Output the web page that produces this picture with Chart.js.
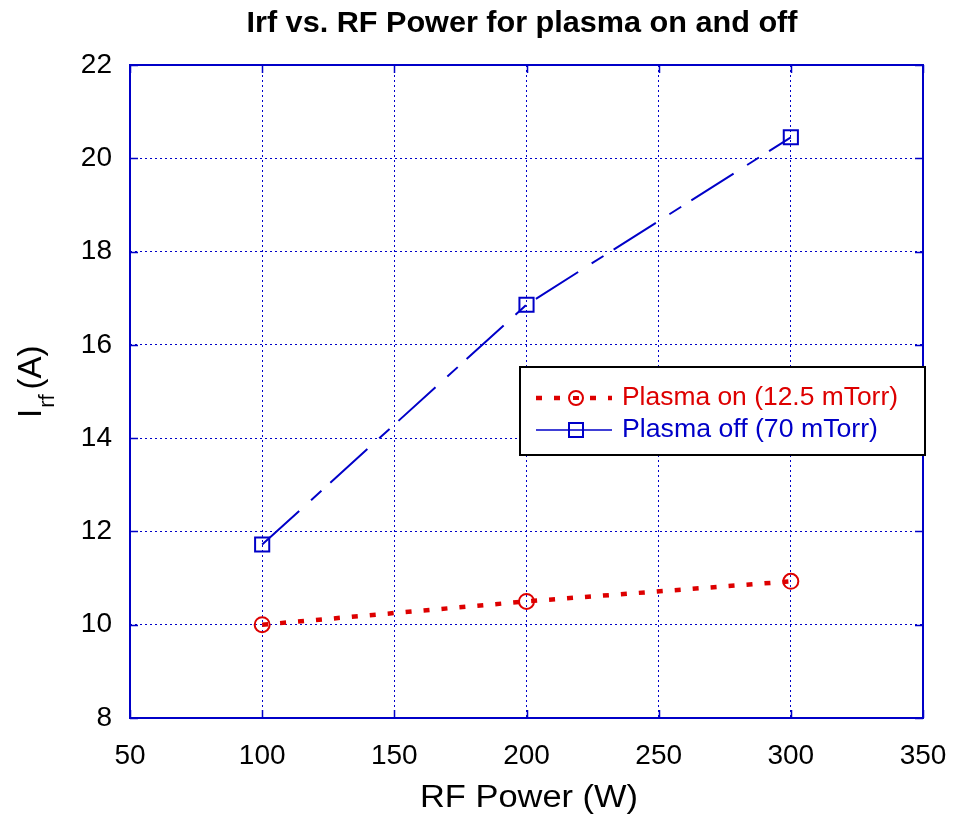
<!DOCTYPE html>
<html>
<head>
<meta charset="utf-8">
<script src="https://cdn.jsdelivr.net/npm/chart.js@4"></script>
<style>
  html, body { margin: 0; padding: 0; background: #fff; }
  #wrap { width: 953px; height: 822px; }
</style>
</head>
<body>
<div id="wrap"><canvas id="chart" width="953" height="822"></canvas></div>
<script>
// data
const rfPower = [100, 200, 300];
const plasmaOn = [10.0, 10.5, 10.93];
const plasmaOff = [11.72, 16.86, 20.45];
const seriesNames = ['Plasma on (12.5 mTorr)', 'Plasma off (70 mTorr)'];
const xTicks = [50, 100, 150, 200, 250, 300, 350];
const yTicks = [8, 10, 12, 14, 16, 18, 20, 22];

const RED = '#dd0000';
const BLUE = '#0000c8';
const FONT = '"Liberation Sans", Arial, sans-serif';

function pts(ys) {
  return rfPower.map((x, i) => ({ x: x, y: ys[i] }));
}

// draw text stretched horizontally so it fills a given width
function fitText(ctx, text, cx, cy, width) {
  const w = ctx.measureText(text).width;
  ctx.save();
  ctx.translate(cx, cy);
  ctx.scale(width / w, 1);
  ctx.textAlign = 'center';
  ctx.fillText(text, 0, 0);
  ctx.restore();
}

// frame, inward ticks, titles, legend
const decorations = {
  id: 'decorations',
  afterDatasetsDraw(chart) {
    const ctx = chart.ctx;
    const a = chart.chartArea;
    const xs = chart.scales.x, ys = chart.scales.y;
    ctx.save();

    // plot frame
    ctx.strokeStyle = BLUE;
    ctx.lineWidth = 2;
    ctx.strokeRect(a.left, a.top, a.right - a.left, a.bottom - a.top);

    // small ticks pointing inward
    ctx.lineWidth = 1.5;
    ctx.beginPath();
    xTicks.forEach(v => {
      const px = Math.round(xs.getPixelForValue(v)) + 0.5;
      ctx.moveTo(px, a.bottom); ctx.lineTo(px, a.bottom - 8);
      ctx.moveTo(px, a.top); ctx.lineTo(px, a.top + 8);
    });
    yTicks.forEach(v => {
      const py = Math.round(ys.getPixelForValue(v)) + 0.5;
      ctx.moveTo(a.left, py); ctx.lineTo(a.left + 8, py);
      ctx.moveTo(a.right, py); ctx.lineTo(a.right - 8, py);
    });
    ctx.stroke();

    // title
    ctx.fillStyle = '#000';
    ctx.textBaseline = 'alphabetic';
    ctx.font = 'bold 30px ' + FONT;
    fitText(ctx, 'Irf vs. RF Power for plasma on and off', 522, 32, 551);

    // x axis title
    ctx.font = '31px ' + FONT;
    fitText(ctx, 'RF Power (W)', 529, 807, 218);

    // y axis title with subscript
    ctx.save();
    ctx.translate(30, 380);
    ctx.rotate(-Math.PI / 2);
    ctx.textAlign = 'left';
    ctx.font = '33px ' + FONT;
    let x0 = -38;
    ctx.fillText('I', x0, 11);
    x0 += ctx.measureText('I').width + 1;
    ctx.font = '22px ' + FONT;
    ctx.fillText('rf', x0, 24);
    x0 += ctx.measureText('rf').width + 5;
    ctx.font = '33px ' + FONT;
    ctx.fillText('(A)', x0, 11);
    ctx.restore();

    // legend box
    const lx = 520, ly = 367, lw = 405, lh = 88;
    ctx.fillStyle = '#fff';
    ctx.fillRect(lx, ly, lw, lh);
    ctx.strokeStyle = '#000';
    ctx.lineWidth = 2;
    ctx.strokeRect(lx, ly, lw, lh);

    const rows = [
      { y: 398, color: RED, dash: [6, 12], width: 4.5, marker: 'circle', w: 276 },
      { y: 430, color: BLUE, dash: [], width: 1.5, marker: 'rect', w: 256 }
    ];
    rows.forEach((r, i) => {
      ctx.strokeStyle = r.color;
      ctx.lineWidth = r.width;
      ctx.setLineDash(r.dash);
      ctx.beginPath();
      ctx.moveTo(536, r.y); ctx.lineTo(612, r.y);
      ctx.stroke();
      ctx.setLineDash([]);
      ctx.lineWidth = 2;
      ctx.beginPath();
      if (r.marker === 'circle') {
        ctx.fillStyle = '#fff';
        ctx.arc(576, r.y, 7, 0, Math.PI * 2);
        ctx.fill();
        ctx.stroke();
        ctx.fillStyle = r.color;
        ctx.fillRect(573, r.y - 2, 6, 4);
      } else {
        ctx.rect(569, r.y - 7, 14, 14);
        ctx.stroke();
      }
      ctx.fillStyle = r.color;
      ctx.font = '25px ' + FONT;
      ctx.textBaseline = 'middle';
      fitText(ctx, seriesNames[i], 622 + r.w / 2, r.y, r.w);
    });

    ctx.restore();
  }
};

new Chart(document.getElementById('chart'), {
  type: 'line',
  data: {
    datasets: [
      {
        label: seriesNames[0],
        data: pts(plasmaOn),
        borderColor: RED,
        borderWidth: 4.5,
        borderDash: [6, 12],
        pointStyle: 'circle',
        pointRadius: 7.5,
        pointBorderWidth: 2,
        pointBorderColor: RED,
        pointBackgroundColor: 'rgba(0,0,0,0)',
        tension: 0
      },
      {
        label: seriesNames[1],
        data: pts(plasmaOff),
        borderColor: BLUE,
        borderWidth: 2,
        borderDash: [50, 16, 14, 12],
        pointStyle: 'rect',
        pointRadius: 10,
        pointBorderWidth: 2,
        pointBorderColor: BLUE,
        pointBackgroundColor: 'rgba(0,0,0,0)',
        tension: 0
      }
    ]
  },
  options: {
    responsive: false,
    animation: false,
    layout: { padding: { top: 65, right: 30, left: 0, bottom: 0 } },
    plugins: {
      legend: { display: false },
      title: { display: false },
      tooltip: { enabled: false }
    },
    scales: {
      x: {
        type: 'linear',
        min: 50, max: 350,
        afterBuildTicks(scale) { scale.ticks = xTicks.map(v => ({ value: v })); },
        afterFit(scale) {
          scale.height = 104;
          scale.paddingLeft = 0;
          scale.paddingRight = 0;
        },
        grid: { color: BLUE, lineWidth: 1, drawTicks: false },
        border: { display: false, dash: [2, 3] },
        ticks: { color: '#000', padding: 21, font: { family: FONT, size: 28 } }
      },
      y: {
        min: 8, max: 22,
        afterBuildTicks(scale) { scale.ticks = yTicks.map(v => ({ value: v })); },
        afterFit(scale) {
          scale.width = 130;
          scale.paddingTop = 0;
          scale.paddingBottom = 0;
        },
        grid: { color: BLUE, lineWidth: 1, drawTicks: false },
        border: { display: false, dash: [2, 3] },
        ticks: { color: '#000', padding: 18, font: { family: FONT, size: 28 } }
      }
    }
  },
  plugins: [decorations]
});
</script>
</body>
</html>
